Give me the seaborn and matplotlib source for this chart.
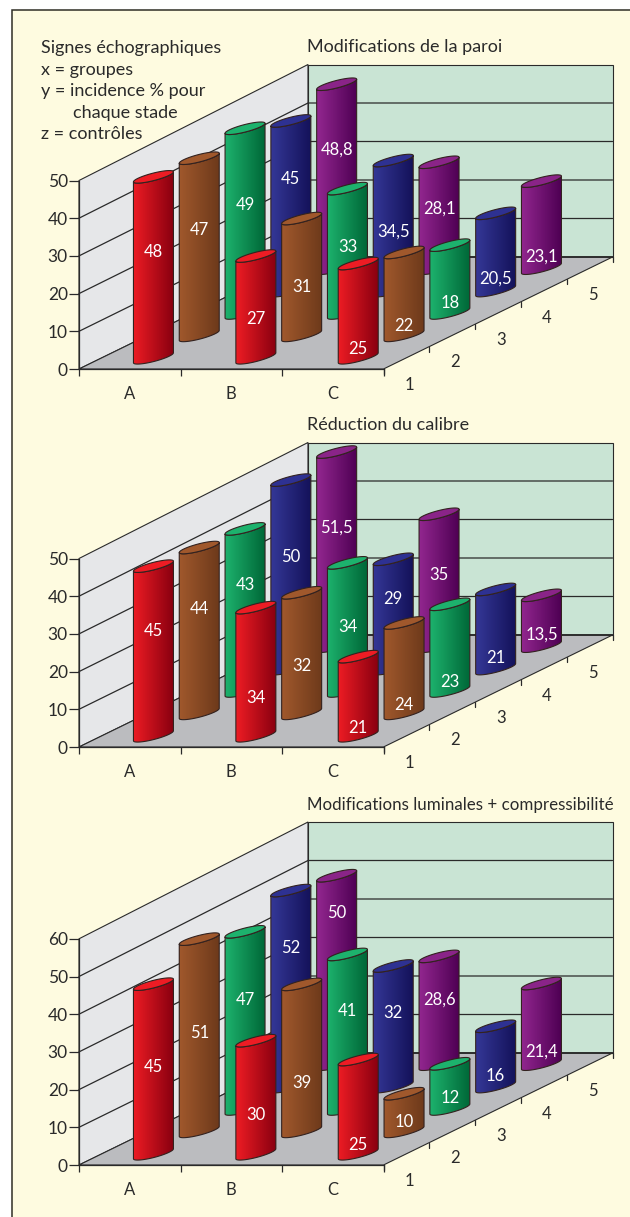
import matplotlib
matplotlib.use("Agg")
import matplotlib.pyplot as plt
import numpy as np
import seaborn as sns
from matplotlib.colors import LinearSegmentedColormap
from matplotlib.patches import PathPatch, Polygon, Rectangle
from matplotlib.path import Path
from matplotlib.transforms import Affine2D, IdentityTransform

# data: one list per depth row (1 to 5), each with the groups A, B, C
groups = ["A", "B", "C"]
rows = ["1", "2", "3", "4", "5"]

paroi = [[48, 27, 25], [47, 31, 22], [49, 33, 18], [45, 34.5, 20.5], [48.8, 28.1, 23.1]]
calibre = [[45, 34, 21], [44, 32, 24], [43, 34, 23], [50, 29, 21], [51.5, 35, 13.5]]
luminal = [[45, 30, 25], [51, 39, 10], [47, 41, 12], [52, 32, 16], [50, 28.6, 21.4]]

titles = ["Modifications de la paroi", "Réduction du calibre", "Modifications luminales + compressibilité"]
yticks_1 = [0, 10, 20, 30, 40, 50]
yticks_3 = [0, 10, 20, 30, 40, 50, 60]

legend_lines = ["Signes échographiques", "x = groupes", "y = incidence % pour", "chaque stade", "z = contrôles"]

# layout, in pixels of the 630x1217 picture
W, H = 630, 1217
X0 = 79
GROUP_W = 101.5
DX, DY = 45.8, 22.4
PX = 3.77
BAR_W = 0.394
origins = [369, 747, 1165]
title_y = [47, 425, 805]
title_size = [13, 13, 12.2]
label_y = [
    [[252, 319, 349], [230, 287, 326], [205, 247, 303], [179, 232, 279], [150, 209, 257]],
    [[631, 698, 728], [609, 666, 705], [585, 627, 682], [557, 599, 658], [528, 575, 635]],
    [[1067, 1115, 1145], [1033, 1083, 1122], [1000, 1011, 1098], [948, 1013, 1076], [913, 1000, 1052]],
]

DARK = "#2a2a2a"
CREAM = "#fefbe0"
WALL = "#e6e7e9"
BACK = "#c9e4d4"
FLOOR = "#bbbcbf"
bar_colors = [
    ("#ed1c24", "#8b0010", "#ed1c24"),
    ("#a0582c", "#6e3a1b", "#a0582c"),
    ("#1db26d", "#006838", "#1db26d"),
    ("#343796", "#14125a", "#2e3192"),
    ("#92278f", "#4f0054", "#8a2488"),
]

sns.set_theme(style="white")
plt.rcParams["font.family"] = ["Lato", "DejaVu Sans"]
plt.rcParams["text.color"] = DARK


def cylinder_paths(bar, shift):
    x, w, h = bar.get_x(), bar.get_width(), bar.get_height()
    base = shift.transform((x + w / 2, 0))
    top = shift.transform((x + w / 2, h))
    a = (shift.transform((x + w, 0))[0] - shift.transform((x, 0))[0]) / 2
    # ellipse seen at an angle: ends stay on the cylinder edges
    def arc(c, t):
        return np.column_stack([c[0] + a * np.cos(t), c[1] + 0.25 * a * np.cos(t) + 0.19 * a * np.sin(t)])
    body = np.vstack([arc(base, np.linspace(np.pi, 2 * np.pi, 40)), arc(top, np.linspace(2 * np.pi, np.pi, 40))])
    cap = arc(top, np.linspace(0, 2 * np.pi, 60))
    return base, top, a, body, cap


def draw_panel(fig, values, yticks, origin, title, ty, ly, tsize):
    ymax = yticks[-1]
    ax = fig.add_axes([X0 / W, 1 - origin / H, 3 * GROUP_W / W, ymax * PX / H])
    ax.patch.set_visible(False)

    def set_limits():
        ax.set_xlim(-0.5, 2.5)
        ax.set_ylim(0, ymax)

    set_limits()
    ax.set_autoscale_on(False)
    ident = IdentityTransform()

    def proj(g, depth, v):
        # g in groups from the left edge, depth in rows, v in values
        px = ax.transData.transform((g - 0.5, v * 0))
        yv = ax.transData.transform((0, v))[1]
        return px[0] + depth * DX, yv + depth * DY + v * depth * 0.016

    # walls and floor
    ax.add_patch(Polygon([proj(0, 0, 0), proj(0, 5, 0), proj(0, 5, ymax), proj(0, 0, ymax)], closed=True,
                         fc=WALL, ec=DARK, lw=0.8, transform=ident, clip_on=False, zorder=0.5))
    ax.add_patch(Polygon([proj(0, 5, 0), proj(3, 5, 0), proj(3, 5, ymax), proj(0, 5, ymax)], closed=True,
                         fc=BACK, ec=DARK, lw=0.8, transform=ident, clip_on=False, zorder=0.5))
    ax.add_patch(Polygon([proj(0, 0, 0), proj(3, 0, 0), proj(3, 5, 0), proj(0, 5, 0)], closed=True,
                         fc=FLOOR, ec=DARK, lw=0.8, transform=ident, clip_on=False, zorder=0.6))
    for v in yticks[1:-1]:
        a, b, c = proj(0, 0, v), proj(0, 5, v), proj(3, 5, v)
        ax.plot([a[0], b[0], c[0]], [a[1], b[1], c[1]], color=DARK, lw=0.9, transform=ident,
                clip_on=False, zorder=0.7)
    a, b = proj(0, 5, 0), proj(3, 5, 0)
    ax.plot([a[0], b[0]], [a[1], b[1]], color=DARK, lw=1.3, transform=ident, clip_on=False, zorder=0.8)

    # depth axis, on the right edge of the floor
    for d in range(6):
        p = proj(3, d, 0)
        ax.plot([p[0], p[0]], [p[1], p[1] - 5], color=DARK, lw=0.9, transform=ident, clip_on=False)
    for d, name in enumerate(rows):
        p = proj(3, d + 0.5, 0)
        ax.text(p[0] + 3, p[1] - 27, name, fontsize=12, ha="center", va="center", transform=ident)

    # back rows first so the front rows cover them
    for r in range(4, -1, -1):
        n_before = len(ax.containers)
        sns.barplot(x=groups, y=values[r], color=bar_colors[r][0], width=BAR_W, saturation=1,
                    errorbar=None, ax=ax)
        set_limits()
        z = 10 + (4 - r)
        cmap = LinearSegmentedColormap.from_list("c", bar_colors[r][:2])
        for g, bar in enumerate(ax.containers[n_before]):
            # bars sit a little wider apart than the axis ticks
            shift = ax.transData + Affine2D().translate(DX * (r + 0.5) + 0.8 + 0.9 * g, DY * (r + 0.5))
            base, top, a, body, cap = cylinder_paths(bar, shift)
            body_path = Path(np.vstack([body, body[0]]), closed=True)
            bar.set_transform(shift)
            bar.set_zorder(z)
            bar.set_linewidth(0)
            bar.set_clip_path(body_path, ident)
            im = ax.imshow(np.linspace(0, 1, 64).reshape(1, -1), cmap=cmap, aspect="auto",
                           extent=(base[0] - a, base[0] + a, base[1] - 2 * a, top[1] + 2 * a),
                           transform=ident, interpolation="bilinear", zorder=z)
            # images stay inside the axes box unless given another one
            im.set_clip_box(fig.bbox)
            im.set_clip_path(body_path, ident)
            ax.add_patch(PathPatch(body_path, fc="none", ec="#33221f", lw=0.8, transform=ident,
                                   clip_on=False, zorder=z))
            ax.add_patch(Polygon(cap, closed=True, fc=bar_colors[r][2], ec="#33221f", lw=0.8,
                                 transform=ident, clip_on=False, zorder=z))
            label = f"{values[r][g]:g}".replace(".", ",")
            ax.text(base[0], H - ly[r][g], label, color="white", fontsize=12, ha="center",
                    va="center", transform=ident, zorder=z + 0.5)
    set_limits()

    # front axes
    sns.despine(ax=ax, top=True, right=True)
    for side in ["left", "bottom"]:
        ax.spines[side].set_color(DARK)
        ax.spines[side].set_linewidth(0.9)
        ax.spines[side].set_zorder(0.9)
    ax.set_xlabel("")
    ax.set_ylabel("")
    ax.set_yticks(yticks)
    ax.set_xticks([-0.5, 0.5, 1.5, 2.5], minor=True)
    ax.tick_params(axis="y", length=7, width=0.9, color=DARK, labelcolor=DARK, labelsize=12.5, pad=1, left=True)
    ax.tick_params(axis="x", which="major", length=0, labelcolor=DARK, labelsize=12, pad=12)
    ax.tick_params(axis="x", which="minor", length=5, width=0.9, color=DARK, bottom=True)

    fig.text(307 / W, 1 - ty / H, title, fontsize=tsize, ha="left", va="center")


fig = plt.figure(figsize=(W / 100, H / 100), dpi=100, facecolor="white")
fig.add_artist(Rectangle((11.5 / W, -0.01), 1.1, 1.01 - 9.5 / H, transform=fig.transFigure,
                         fc=CREAM, ec="#2f2e25", lw=1.1, zorder=-1))

draw_panel(fig, paroi, yticks_1, origins[0], titles[0], title_y[0], label_y[0], title_size[0])
draw_panel(fig, calibre, yticks_1, origins[1], titles[1], title_y[1], label_y[1], title_size[1])
draw_panel(fig, luminal, yticks_3, origins[2], titles[2], title_y[2], label_y[2], title_size[2])

for line, x, y in zip(legend_lines, [41, 41, 41, 73, 41], [48, 70, 91, 113, 134]):
    fig.text(x / W, 1 - y / H, line, fontsize=13, ha="left", va="center")

fig.savefig("out.png", dpi=100)
